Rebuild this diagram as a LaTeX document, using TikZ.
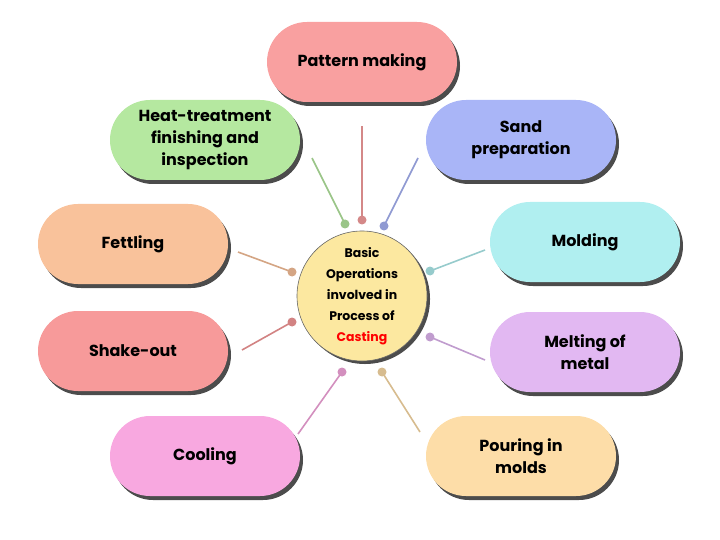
\documentclass[tikz,border=0pt]{standalone}
\usepackage{fontspec}
\setmainfont{Poppins}[BoldFont={* Bold}]
\usetikzlibrary{shadows}
\definecolor{pattern}{HTML}{F9A0A0}
\definecolor{heat}{HTML}{B5E8A0}
\definecolor{sand}{HTML}{A9B5F7}
\definecolor{fettl}{HTML}{F9C29B}
\definecolor{mold}{HTML}{B0EFF0}
\definecolor{shake}{HTML}{F79A9A}
\definecolor{melt}{HTML}{E2B8F2}
\definecolor{cool}{HTML}{F8A8E0}
\definecolor{pour}{HTML}{FDDDA8}
\definecolor{hub}{HTML}{FCE8A0}
\tikzset{
  opbox/.style={rounded corners=40pt, minimum width=190pt, minimum height=80pt,
    align=center, font=\bfseries\fontsize{16}{22}\selectfont,
    drop shadow={shadow xshift=3pt, shadow yshift=-4pt, fill=black!70, opacity=1}},
  link/.style={line width=1.6pt},
}
\begin{document}
\begin{tikzpicture}[x=1pt,y=-1pt]
  \useasboundingbox (0,0) rectangle (720,540);
  % center circle
  \node[circle, fill=hub, draw=black!60, line width=0.6pt, minimum size=126pt, align=center,
    font=\bfseries\fontsize{12.5}{21}\selectfont,
    drop shadow={shadow xshift=3pt, shadow yshift=-3pt, fill=black!70, opacity=1}]
    (hubc) at (362,296) {Basic\\Operations\\involved in\\Process of\\\textcolor{red}{Casting}};
  % boxes, dots and links
  \foreach \n/\x/\y/\c/\t/\dx/\dy/\ex/\ey in {
    patt/362/62/pattern/{Pattern making}/362/220/362/126,
    heat/205/140/heat/{Heat-treatment\\finishing and\\inspection}/345/224/312/158,
    sand/521/140/sand/{Sand\\preparation}/384/226/418/158,
    fett/133/244/fettl/{Fettling}/292/272/238/252,
    mold/585/242/mold/{Molding}/430/271/485/250,
    shak/133/351/shake/{Shake-out}/292/322/242/350,
    melt/585/352/melt/{Melting of\\metal}/430/337/485/360,
    cool/205/456/cool/{Cooling}/342/372/298/434,
    pour/521/456/pour/{Pouring in\\molds}/382/372/420/432}{
    \node[opbox, fill=\c] (\n) at (\x,\y) {\t};
    \coordinate (\n-dot) at (\dx,\dy);
    \coordinate (\n-end) at (\ex,\ey);
    \draw[link, \c!85!black] (\n-dot) -- (\n-end);
    \fill[\c!85!black] (\n-dot) circle (4.5pt);
  }
\end{tikzpicture}
\end{document}
